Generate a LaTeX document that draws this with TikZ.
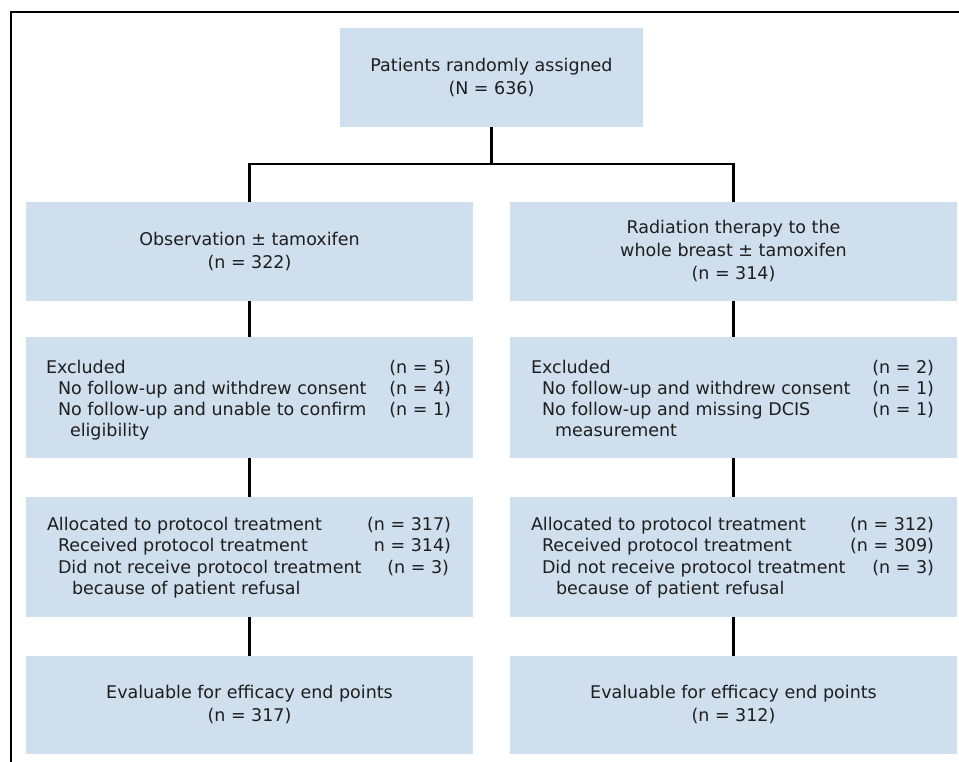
\documentclass[tikz,border=0pt]{standalone}
\usepackage{fontspec}
\setmainfont{DejaVu Sans}
\usetikzlibrary{calc}
\definecolor{boxblue}{RGB}{207,223,238}
\definecolor{ink}{RGB}{30,30,30}
\begin{document}
\begin{tikzpicture}[x=1pt,y=-1pt,
  box/.style={fill=boxblue, inner sep=0pt, outer sep=0pt, minimum width=447pt, minimum height=99pt, align=center, font=\fontsize{17.5}{23}\selectfont, text=ink},
  lbl/.style={inner sep=0pt, outer sep=0pt, font=\fontsize{17.5}{21}\selectfont, text=ink},
  conn/.style={line width=2.6pt, black, line join=miter},
  frameline/.style={line width=1.6pt, black}]
\useasboundingbox (0,0) rectangle (959,762);
\draw[frameline] (11,762) -- (11,12) -- (959,12);
% boxes
\node[box, minimum width=303pt] (top) at (491.5,77.5) {Patients randomly assigned\\(N = 636)};
\node[box] (obs) at (249.5,251.5) {Observation ± tamoxifen\\(n = 322)};
\node[box] (rt) at (733.5,251.5) {Radiation therapy to the\\whole breast ± tamoxifen\\(n = 314)};
\node[box, minimum height=121pt] (exL) at (249.5,397.5) {};
\node[box, minimum height=121pt] (exR) at (733.5,397.5) {};
\node[box, minimum height=120pt] (alL) at (249.5,557) {};
\node[box, minimum height=120pt] (alR) at (733.5,557) {};
\node[box, minimum height=98pt] (evL) at (249.5,705) {Evaluable for efficacy end points\\(n = 317)};
\node[box, minimum height=98pt] (evR) at (733.5,705) {Evaluable for efficacy end points\\(n = 312)};
% excluded, left
\node[lbl, anchor=base west] (exL1) at ($(exL.north west)+(20,36)$) {Excluded};
\node[lbl, anchor=base east] (exL1n) at ($(exL.north east)+(-22,36)$) {(n = 5)};
\node[lbl, anchor=base west] (exL2) at ($(exL.north west)+(32,57)$) {No follow-up and withdrew consent};
\node[lbl, anchor=base east] (exL2n) at ($(exL.north east)+(-22,57)$) {(n = 4)};
\node[lbl, anchor=base west] (exL3) at ($(exL.north west)+(32,78)$) {No follow-up and unable to confirm};
\node[lbl, anchor=base east] (exL3n) at ($(exL.north east)+(-22,78)$) {(n = 1)};
\node[lbl, anchor=base west] (exL4) at ($(exL.north west)+(44,99)$) {eligibility};
% excluded, right
\node[lbl, anchor=base west] (exR1) at ($(exR.north west)+(21,36)$) {Excluded};
\node[lbl, anchor=base east] (exR1n) at ($(exR.north east)+(-23,36)$) {(n = 2)};
\node[lbl, anchor=base west] (exR2) at ($(exR.north west)+(32,57)$) {No follow-up and withdrew consent};
\node[lbl, anchor=base east] (exR2n) at ($(exR.north east)+(-23,57)$) {(n = 1)};
\node[lbl, anchor=base west] (exR3) at ($(exR.north west)+(32,78)$) {No follow-up and missing DCIS};
\node[lbl, anchor=base east] (exR3n) at ($(exR.north east)+(-23,78)$) {(n = 1)};
\node[lbl, anchor=base west] (exR4) at ($(exR.north west)+(45,99)$) {measurement};
% allocated, left
\node[lbl, anchor=base west] (alL1) at ($(alL.north west)+(21,33)$) {Allocated to protocol treatment};
\node[lbl, anchor=base east] (alL1n) at ($(alL.north east)+(-22,33)$) {(n = 317)};
\node[lbl, anchor=base west] (alL2) at ($(alL.north west)+(32,54.5)$) {Received protocol treatment};
\node[lbl, anchor=base east] (alL2n) at ($(alL.north east)+(-22,54.5)$) {n = 314)};
\node[lbl, anchor=base west] (alL3) at ($(alL.north west)+(32,76)$) {Did not receive protocol treatment};
\node[lbl, anchor=base east] (alL3n) at ($(alL.north east)+(-24,76)$) {(n = 3)};
\node[lbl, anchor=base west] (alL4) at ($(alL.north west)+(46,97.5)$) {because of patient refusal};
% allocated, right
\node[lbl, anchor=base west] (alR1) at ($(alR.north west)+(21,33)$) {Allocated to protocol treatment};
\node[lbl, anchor=base east] (alR1n) at ($(alR.north east)+(-23,33)$) {(n = 312)};
\node[lbl, anchor=base west] (alR2) at ($(alR.north west)+(32,54.5)$) {Received protocol treatment};
\node[lbl, anchor=base east] (alR2n) at ($(alR.north east)+(-23,54.5)$) {(n = 309)};
\node[lbl, anchor=base west] (alR3) at ($(alR.north west)+(32,76)$) {Did not receive protocol treatment};
\node[lbl, anchor=base east] (alR3n) at ($(alR.north east)+(-23,76)$) {(n = 3)};
\node[lbl, anchor=base west] (alR4) at ($(alR.north west)+(46,97.5)$) {because of patient refusal};
% connectors
\coordinate (jL) at (249.5,164);
\coordinate (jR) at (733.5,164);
\draw[conn] (top.south) -- (top.south |- jL);
\draw[conn] (obs.north) -- (jL) -- (jR) -- (rt.north);
\draw[conn] (obs.south) -- (exL.north);
\draw[conn] (exL.south) -- (alL.north);
\draw[conn] (alL.south) -- (evL.north);
\draw[conn] (rt.south) -- (exR.north);
\draw[conn] (exR.south) -- (alR.north);
\draw[conn] (alR.south) -- (evR.north);
\end{tikzpicture}
\end{document}
